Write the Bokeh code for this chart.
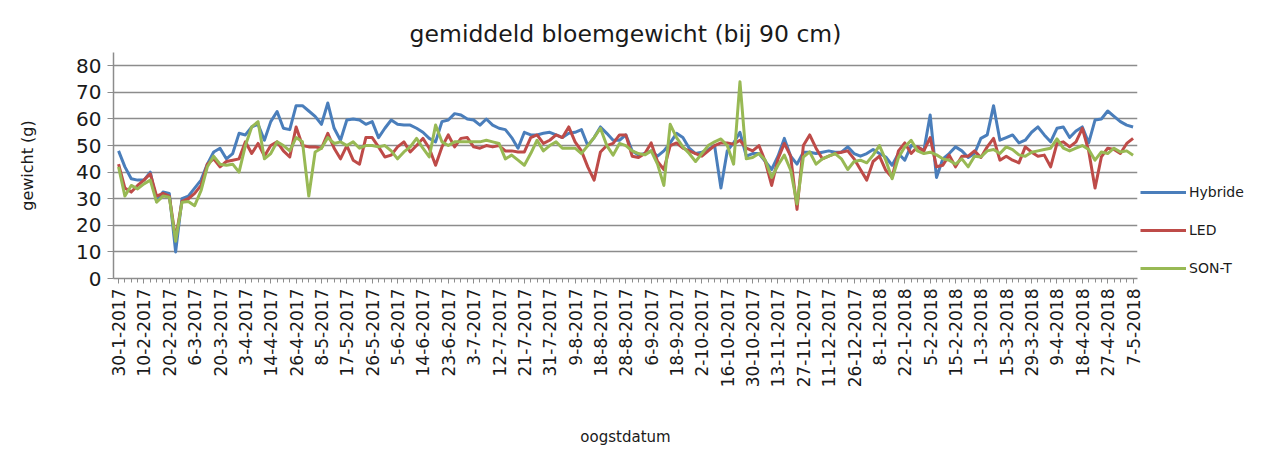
import math
from bokeh.plotting import figure
from bokeh.models import Range1d, FixedTicker, Legend, LegendItem
from bokeh.embed import file_html
from bokeh.resources import INLINE

tick_labels = ["30-1-2017", "10-2-2017", "20-2-2017", "6-3-2017", "20-3-2017", "3-4-2017",
               "14-4-2017", "26-4-2017", "8-5-2017", "17-5-2017", "26-5-2017", "5-6-2017",
               "14-6-2017", "23-6-2017", "3-7-2017", "12-7-2017", "21-7-2017", "31-7-2017",
               "9-8-2017", "18-8-2017", "28-8-2017", "6-9-2017", "18-9-2017", "2-10-2017",
               "16-10-2017", "30-10-2017", "13-11-2017", "27-11-2017", "11-12-2017", "26-12-2017",
               "8-1-2018", "22-1-2018", "5-2-2018", "15-2-2018", "1-3-2018", "15-3-2018",
               "29-3-2018", "9-4-2018", "18-4-2018", "27-4-2018", "7-5-2018"]
label_every = 4

hybride = [48, 42, 37.5, 37, 37, 40, 29, 32.5, 32, 10, 30, 31, 34, 37, 43, 47.6, 49, 45, 47, 54.6,
           54, 57, 58, 52, 59, 62.8, 56.5, 56, 65, 65, 63, 61, 58, 66, 56.5, 52, 59.6, 60, 59.6, 58,
           59, 53, 56.5, 59.6, 58, 57.7, 57.7, 56.5, 55, 52.7, 51.4, 59, 59.6, 62, 61.5, 60, 59.6, 57.7, 60, 57.7,
           56.5, 56, 53, 49, 55, 54, 54, 54.6, 55, 54, 53, 54.6, 55, 56, 50, 53, 57, 54.6, 52, 52,
           54, 48, 46.5, 47, 48, 46, 48, 51, 54.6, 53, 49, 47, 47.5, 48.5, 50, 34, 48, 51, 55, 46,
           47, 47, 44, 41, 46, 52.7, 46, 43, 47.5, 47.5, 47, 47.5, 48, 47.5, 47.5, 49.5, 47, 46, 47, 48.5,
           47, 45.7, 42.6, 47, 44.5, 50, 49.5, 48, 61.5, 38, 45, 47, 49.5, 48, 45.5, 47, 52.7, 54, 65, 52,
           53, 54, 51, 52, 55, 57, 54, 51.4, 56.5, 57, 53, 55.5, 57, 51, 59.6, 60, 63, 61, 59, 57.7, 57]

led = [43, 34, 32.5, 35, 37, 39.4, 31, 32, 31, 15, 29, 30, 32, 35, 43, 45, 42, 44, 44.5, 45,
       51.4, 47, 50.8, 46, 50, 51.4, 48, 45.7, 57, 50, 49.5, 49.5, 49, 54.6, 49, 45, 50, 44.5, 43, 53,
       53, 49.5, 45.7, 46.4, 49.5, 51.4, 47.6, 50, 52.7, 49, 42.6, 49.5, 54, 49.5, 52.7, 53, 49.5, 49, 50, 49.5,
       50, 48, 48, 47.6, 47.6, 53, 54, 50.8, 52, 54, 53, 57, 51.4, 48, 42, 37, 47.6, 50, 50.8, 54,
       54, 46, 45.5, 47, 51, 44, 41, 50, 51, 49, 48, 47, 46, 48, 50, 51, 51, 50.5, 52, 49,
       48, 50, 44, 35, 45, 50.8, 46, 26, 50, 54, 49, 45, 46, 47, 47.5, 48, 45, 41, 37, 44,
       46, 40.7, 38, 48, 51, 47, 49.5, 48, 53, 42, 42.6, 46.4, 42, 46, 46, 48, 45.5, 49.5, 52.7, 44.5,
       46, 44.5, 43.5, 49.5, 47.5, 46, 46.4, 42, 50.8, 51.4, 49.5, 51.4, 56.5, 48, 34, 45.7, 49, 48.5, 47, 50.8, 52.7]

sont = [42, 31, 35, 33.7, 35.6, 37, 28.7, 31, 30.6, 14, 28.7, 29, 27.4, 33, 42, 46, 43, 42.6, 43, 40,
        50, 57, 59, 45, 47, 51.4, 50, 48, 53, 51.4, 31, 47.6, 49, 53, 50.8, 51.4, 50, 51.4, 49, 50,
        50, 49.5, 50, 48, 45, 47.6, 49.5, 52.7, 49, 45.7, 57.7, 51.4, 50, 51.4, 51.4, 51.4, 51.4, 51.4, 52, 51.4,
        50.8, 45, 46.4, 44.5, 42.6, 47, 52, 48, 50, 51.4, 49, 49, 49, 47, 50, 53, 56.5, 50, 46.4, 50.8,
        50, 48, 47, 46.5, 48, 43, 35, 58, 53, 49.5, 47, 44, 47, 50, 51.4, 52.5, 50, 43, 74, 45,
        45.5, 47, 44.5, 38, 42.6, 46.4, 40.7, 28, 45.7, 47.6, 43, 45, 46, 47, 45, 41, 44, 44.5, 43.5, 46.4,
        50, 44.5, 37.5, 45.5, 49.5, 52, 48, 47, 47.5, 46.5, 45, 44.5, 43, 45, 42, 46, 45.7, 48, 48.5, 47,
        49.5, 48.5, 46.5, 46, 47.5, 48, 48.5, 49, 52.5, 49, 48, 49, 50, 48.5, 44.5, 47.6, 47, 49, 47.6, 48, 46.4]

series_names = ["Hybride", "LED", "SON-T"]
series_values = [hybride, led, sont]
series_colors = ["#4a7ebb", "#be4b48", "#98b954"]

y_ticks = [0, 10, 20, 30, 40, 50, 60, 70, 80]

FONT = "DejaVu Sans"
TXT = "#1a1a1a"
n = len(hybride)
xs = list(range(n))

p = figure(frame_width=1024, frame_height=226, output_backend="svg", toolbar_location=None,
           x_range=Range1d(-0.8, n - 1 + 0.7), y_range=Range1d(0, 85),
           min_border_left=113, min_border_right=112, min_border_top=52, min_border_bottom=164)
p.outline_line_color = None
p.background_fill_color = "white"
p.border_fill_color = "white"

p.title.text = "gemiddeld bloemgewicht (bij 90 cm)"
p.title.align = "center"
p.title.text_font = FONT
p.title.text_font_size = "23.5px"
p.title.text_font_style = "normal"
p.title.text_color = TXT
p.title.standoff = 9

label_pos = [i * label_every for i in range(len(tick_labels))]
p.xaxis.ticker = FixedTicker(ticks=label_pos, minor_ticks=xs)
p.xaxis.major_label_overrides = {pos: lab for pos, lab in zip(label_pos, tick_labels)}
p.xaxis.major_label_orientation = math.pi / 2
p.xaxis.major_label_text_font = FONT
p.xaxis.major_label_text_font_size = "17px"
p.xaxis.major_label_text_color = TXT
p.xaxis.major_label_standoff = 5
p.xaxis.axis_label = "oogstdatum"
p.xaxis.axis_label_text_font = FONT
p.xaxis.axis_label_text_font_size = "15px"
p.xaxis.axis_label_text_font_style = "normal"
p.xaxis.axis_label_text_color = TXT
p.xaxis.axis_label_standoff = 38
p.xaxis.axis_line_color = "#8c8c8c"
p.xaxis.axis_line_width = 1.5
p.xaxis.major_tick_line_color = "#8c8c8c"
p.xaxis.minor_tick_line_color = "#8c8c8c"
p.xaxis.major_tick_out = 5
p.xaxis.major_tick_in = 0
p.xaxis.minor_tick_out = 4
p.xaxis.minor_tick_in = 0

p.yaxis.ticker = FixedTicker(ticks=y_ticks, minor_ticks=[])
p.yaxis.major_label_text_font = FONT
p.yaxis.major_label_text_font_size = "20px"
p.yaxis.major_label_text_color = TXT
p.yaxis.major_label_standoff = 6
p.yaxis.axis_label = "gewicht (g)"
p.yaxis.axis_label_text_font = FONT
p.yaxis.axis_label_text_font_size = "16px"
p.yaxis.axis_label_text_font_style = "normal"
p.yaxis.axis_label_text_color = TXT
p.yaxis.axis_label_standoff = 36
p.yaxis.axis_line_color = "#8c8c8c"
p.yaxis.axis_line_width = 1.5
p.yaxis.major_tick_line_color = "#8c8c8c"
p.yaxis.major_tick_out = 6
p.yaxis.major_tick_in = 0

p.xgrid.grid_line_color = None
p.ygrid.grid_line_color = "#8c8c8c"
p.ygrid.grid_line_width = 1.6

items = []
for name, vals, col in zip(series_names, series_values, series_colors):
    r = p.line(xs, vals, line_color=col, line_width=3, line_join="round")
    items.append(LegendItem(label=name, renderers=[r]))

legend = Legend(items=items, location=(3, 0), orientation="vertical",
                glyph_width=46, glyph_height=20, label_height=20, spacing=18,
                label_standoff=3, padding=0, margin=0,
                label_text_font=FONT, label_text_font_size="14px", label_text_color=TXT,
                background_fill_alpha=0, border_line_alpha=0)
p.add_layout(legend, "right")

open("out.html", "w").write(file_html(p, INLINE))
